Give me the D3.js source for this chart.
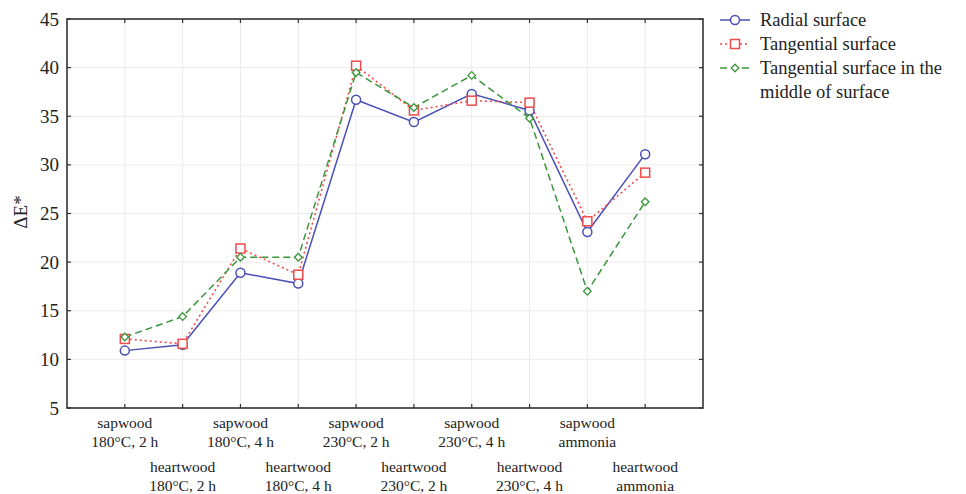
<!DOCTYPE html>
<html>
<head>
<meta charset="utf-8">
<script src="https://cdn.jsdelivr.net/npm/d3@7"></script>
<style>
  body { margin: 0; background: #fff; }
  text { font-family: "Liberation Serif", "DejaVu Serif", serif; fill: #222; }
</style>
</head>
<body>
<svg id="chart" width="966" height="494"></svg>
<script>
// categories (two-line labels)
const categories = [
  ["sapwood", "180°C, 2 h"], ["heartwood", "180°C, 2 h"],
  ["sapwood", "180°C, 4 h"], ["heartwood", "180°C, 4 h"],
  ["sapwood", "230°C, 2 h"], ["heartwood", "230°C, 2 h"],
  ["sapwood", "230°C, 4 h"], ["heartwood", "230°C, 4 h"],
  ["sapwood", "ammonia"], ["heartwood", "ammonia"]
];
const radial = [10.9, 11.5, 18.9, 17.8, 36.7, 34.4, 37.3, 35.6, 23.1, 31.1];
const tangential = [12.1, 11.6, 21.4, 18.7, 40.2, 35.6, 36.6, 36.4, 24.2, 29.2];
const middle = [12.3, 14.4, 20.5, 20.5, 39.5, 35.9, 39.2, 34.8, 17.0, 26.2];
const yTicks = [5, 10, 15, 20, 25, 30, 35, 40, 45];
const seriesNames = ["Radial surface", "Tangential surface", "Tangential surface in the", "middle of surface"];

const svg = d3.select('#chart');
const pLeft = 67, pRight = 703, pTop = 19, pBottom = 408;

const x = d3.scalePoint()
  .domain(d3.range(categories.length))
  .range([pLeft, pRight])
  .padding(1);
const y = d3.scaleLinear().domain([5, 45]).range([pBottom, pTop]);

// grid
const grid = svg.append('g');
grid.selectAll('line.gy').data(yTicks).enter().append('line')
  .attr('x1', pLeft).attr('x2', pRight)
  .attr('y1', d => y(d)).attr('y2', d => y(d))
  .attr('stroke', '#ececec').attr('stroke-width', 1);
grid.selectAll('line.gx').data(d3.range(categories.length)).enter().append('line')
  .attr('x1', d => x(d)).attr('x2', d => x(d))
  .attr('y1', pTop).attr('y2', pBottom)
  .attr('stroke', '#ececec').attr('stroke-width', 1);

// axes with inward ticks
const yAxis = d3.axisLeft(y).tickValues(yTicks).tickSize(0).tickPadding(8);
const gy = svg.append('g').attr('transform', `translate(${pLeft},0)`).call(yAxis);
gy.select('.domain').remove();
gy.selectAll('text').style('font-size', '19px').style('font-family', '"Liberation Serif", serif').attr('fill', '#222');

const ticks = svg.append('g').attr('stroke', '#333').attr('stroke-width', 1.2);
yTicks.forEach(v => {
  ticks.append('line').attr('x1', pLeft).attr('x2', pLeft + 4).attr('y1', y(v)).attr('y2', y(v));
  ticks.append('line').attr('x1', pRight).attr('x2', pRight - 4).attr('y1', y(v)).attr('y2', y(v));
});
d3.range(categories.length).forEach(i => {
  ticks.append('line').attr('x1', x(i)).attr('x2', x(i)).attr('y1', pBottom).attr('y2', pBottom - 4);
  ticks.append('line').attr('x1', x(i)).attr('x2', x(i)).attr('y1', pTop).attr('y2', pTop + 4);
});

// frame
svg.append('rect')
  .attr('x', pLeft).attr('y', pTop)
  .attr('width', pRight - pLeft).attr('height', pBottom - pTop)
  .attr('fill', 'none').attr('stroke', '#333').attr('stroke-width', 1.6);

// x labels, staggered
const xl = svg.append('g');
categories.forEach((c, i) => {
  const base = i % 2 === 0 ? 428 : 472;
  const t = xl.append('text')
    .attr('text-anchor', 'middle')
    .attr('x', x(i)).attr('y', base)
    .style('font-size', '15.5px');
  t.append('tspan').attr('x', x(i)).attr('dy', 0).text(c[0]);
  t.append('tspan').attr('x', x(i)).attr('dy', 19).text(c[1]);
});

// y label
svg.append('text')
  .attr('transform', 'translate(27,212) rotate(-90)')
  .attr('text-anchor', 'middle')
  .style('font-size', '19px')
  .text('ΔE*');

// series
const series = [
  { values: radial, color: '#4a4fb8', dash: null, marker: 'circle' },
  { values: tangential, color: '#f04b4b', dash: '2,3', marker: 'square' },
  { values: middle, color: '#3a963a', dash: '7,4', marker: 'diamond' }
];

const line = d3.line().x((d, i) => x(i)).y(d => y(d));

function drawMarker(g, kind, cx, cy, color) {
  if (kind === 'circle') {
    g.append('circle').attr('cx', cx).attr('cy', cy).attr('r', 4.5)
      .attr('fill', '#fff').attr('stroke', color).attr('stroke-width', 1.5);
  } else if (kind === 'square') {
    g.append('rect').attr('x', cx - 4.5).attr('y', cy - 4.5).attr('width', 9).attr('height', 9)
      .attr('fill', '#fff').attr('stroke', color).attr('stroke-width', 1.5);
  } else {
    const s = 3.8;
    g.append('path').attr('d', `M${cx},${cy - s}L${cx + s},${cy}L${cx},${cy + s}L${cx - s},${cy}Z`)
      .attr('fill', '#fff').attr('stroke', color).attr('stroke-width', 1.3);
  }
}

series.forEach(s => {
  svg.append('path').datum(s.values)
    .attr('d', line)
    .attr('fill', 'none')
    .attr('stroke', s.color)
    .attr('stroke-width', s.marker === 'square' ? 1.6 : 1.5)
    .attr('stroke-dasharray', s.dash);
});
series.forEach(s => {
  const g = svg.append('g');
  s.values.forEach((v, i) => drawMarker(g, s.marker, x(i), y(v), s.color));
});

// legend
const lg = svg.append('g');
const legendRows = [20, 44, 68];
series.forEach((s, i) => {
  const ly = legendRows[i];
  lg.append('line').attr('x1', 720).attr('x2', 750).attr('y1', ly).attr('y2', ly)
    .attr('stroke', s.color).attr('stroke-width', 1.5).attr('stroke-dasharray', s.dash);
  drawMarker(lg, s.marker, 735, ly, s.color);
});
seriesNames.forEach((n, i) => {
  lg.append('text').attr('x', 760).attr('y', 20 + i * 24 + 6)
    .style('font-size', '18.5px').text(n);
});
</script>
</body>
</html>
